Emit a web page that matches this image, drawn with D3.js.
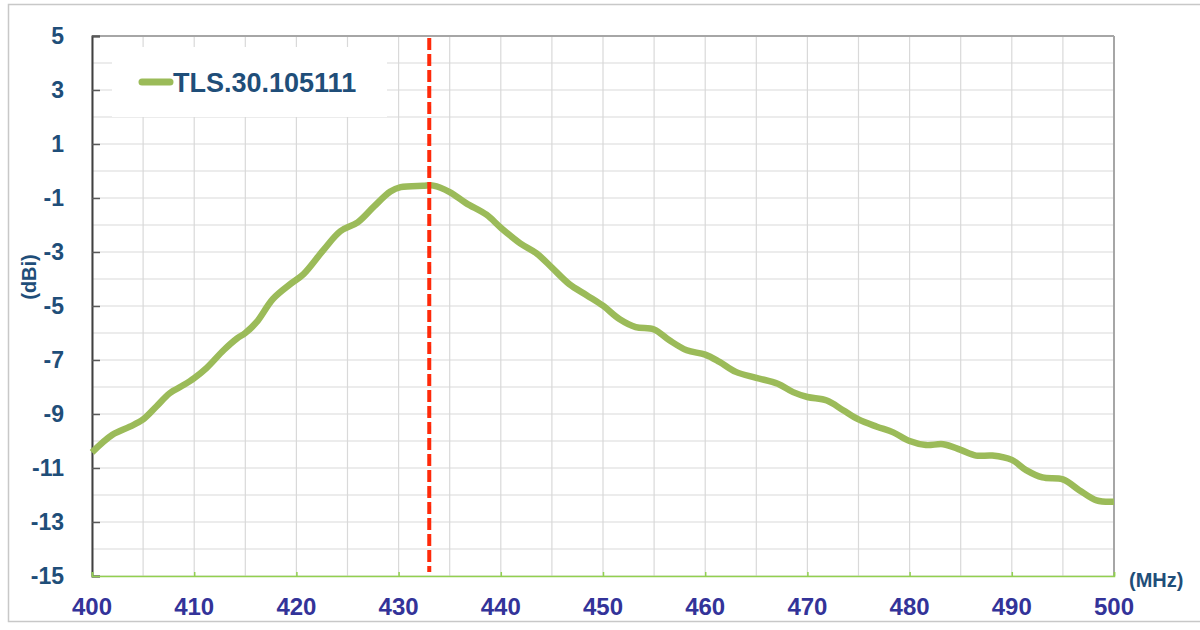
<!DOCTYPE html>
<html>
<head>
<meta charset="utf-8">
<script src="https://cdn.jsdelivr.net/npm/d3@7"></script>
<style>
  body { margin: 0; background: white; }
  text { font-family: "Liberation Sans", Arial, sans-serif; font-weight: bold; }
</style>
</head>
<body>
<div id="main"></div>
<script>
// data
const freqMHz = [400, 402, 403.7, 405, 406.3, 407.6, 409, 410, 411.2, 412.9, 414.2, 415, 416.1, 417.7,
    419.4, 420.7, 422.7, 424.3, 426, 427.6, 429.2, 430.2, 432.4, 433.4, 435, 436.6, 438.6, 440,
    441.9, 443.5, 445, 446.7, 448.4, 450, 451.6, 453.2, 455, 456.5, 458.2, 460, 461.4, 463, 465,
    467.1, 468.6, 470, 471.9, 473.5, 475, 476.8, 478.4, 480, 481.6, 483.3, 485, 486.5, 488.1, 490,
    491.4, 493, 495, 496.6, 498.3, 500];
const gainDbi = [-10.42, -9.77, -9.47, -9.2, -8.72, -8.23, -7.92, -7.67, -7.3, -6.63, -6.2, -6.0, -5.6, -4.74,
    -4.19, -3.82, -2.9, -2.23, -1.9, -1.31, -0.76, -0.6, -0.55, -0.54, -0.78, -1.19, -1.62, -2.1,
    -2.68, -3.05, -3.58, -4.19, -4.6, -4.99, -5.48, -5.78, -5.87, -6.27, -6.64, -6.8, -7.07, -7.44, -7.66,
    -7.88, -8.19, -8.37, -8.5, -8.86, -9.2, -9.47, -9.68, -10.0, -10.15, -10.12, -10.33, -10.54, -10.54, -10.7,
    -11.08, -11.35, -11.42, -11.82, -12.2, -12.25];
const seriesName = "TLS.30.105111";
const markerFreq = 433;
const xTicks = [400, 410, 420, 430, 440, 450, 460, 470, 480, 490, 500];
const yTicks = [5, 3, 1, -1, -3, -5, -7, -9, -11, -13, -15];
const xGrid = d3.range(400, 501, 5);
const yGrid = d3.range(-15, 6, 1);

const ctx = {
    width: 1200,
    height: 630,
    left: 92,
    top: 36,
    right: 1114,
    bottom: 576,
    lineGreen: "#9bbb59",
    labelBlue: "#1f4e79",
    tickIndigo: "#333399",
    gridGrey: "#d9d9d9"
};

function createViz() {
    let svg = d3.select("#main").append("svg")
        .attr("width", ctx.width)
        .attr("height", ctx.height);

    let x = d3.scaleLinear().domain([400, 500]).range([ctx.left, ctx.right]);
    let y = d3.scaleLinear().domain([-15, 5]).range([ctx.bottom, ctx.top]);

    // outer frame
    svg.append("rect")
        .attr("x", 8.5).attr("y", 4.5)
        .attr("width", 1200).attr("height", 617)
        .attr("fill", "white")
        .attr("stroke", "#c8c8c8")
        .attr("stroke-width", 1.5);

    // grid
    let grid = svg.append("g");
    grid.selectAll(".hg").data(yGrid).enter().append("line")
        .attr("x1", ctx.left).attr("x2", ctx.right)
        .attr("y1", d => y(d)).attr("y2", d => y(d))
        .attr("stroke", ctx.gridGrey).attr("stroke-width", 1.2);
    grid.selectAll(".vg").data(xGrid).enter().append("line")
        .attr("x1", d => x(d)).attr("x2", d => x(d))
        .attr("y1", ctx.top).attr("y2", ctx.bottom)
        .attr("stroke", ctx.gridGrey).attr("stroke-width", 1.2);

    // legend box (hides the grid behind it)
    svg.append("rect")
        .attr("x", 112).attr("y", 47)
        .attr("width", 275).attr("height", 70)
        .attr("fill", "white");
    svg.append("line")
        .attr("x1", 142).attr("x2", 170)
        .attr("y1", 82).attr("y2", 82)
        .attr("stroke", ctx.lineGreen)
        .attr("stroke-width", 7)
        .attr("stroke-linecap", "round");
    svg.append("text")
        .attr("x", 173).attr("y", 92)
        .attr("font-size", "27px")
        .attr("fill", ctx.labelBlue)
        .text(seriesName);

    // plot borders
    svg.append("line")
        .attr("x1", ctx.left).attr("x2", ctx.right)
        .attr("y1", ctx.top).attr("y2", ctx.top)
        .attr("stroke", "#a6a6a6").attr("stroke-width", 2);
    svg.append("line")
        .attr("x1", ctx.right).attr("x2", ctx.right)
        .attr("y1", ctx.top).attr("y2", ctx.bottom)
        .attr("stroke", "#a6a6a6").attr("stroke-width", 2);

    // y axis, ticks inward
    let yAxis = svg.append("g")
        .attr("transform", "translate(" + ctx.left + ",0)")
        .call(d3.axisRight(y).tickValues(yTicks).tickSize(8).tickFormat(""));
    yAxis.select(".domain").attr("stroke", "#404040").attr("stroke-width", 2);
    yAxis.selectAll(".tick line").attr("stroke", "#595959").attr("stroke-width", 1.5);
    svg.append("g").selectAll("text").data(yTicks).enter().append("text")
        .attr("x", 64)
        .attr("y", d => y(d))
        .attr("dy", "0.36em")
        .attr("text-anchor", "end")
        .attr("font-size", "23px")
        .attr("fill", ctx.labelBlue)
        .text(d => d);

    // x axis
    let xAxis = svg.append("g")
        .attr("transform", "translate(0," + ctx.bottom + ")")
        .call(d3.axisTop(x).tickValues(xTicks).tickSize(4).tickFormat(""));
    xAxis.select(".domain").attr("stroke", "#92d050").attr("stroke-width", 1.5);
    xAxis.selectAll(".tick line").attr("stroke", "#92d050").attr("stroke-width", 1.5);
    svg.append("g").selectAll("text").data(xTicks).enter().append("text")
        .attr("x", d => x(d))
        .attr("y", 615)
        .attr("text-anchor", "middle")
        .attr("font-size", "24px")
        .attr("fill", ctx.tickIndigo)
        .text(d => d);

    // axis titles
    svg.append("text")
        .attr("transform", "translate(36,277) rotate(-90)")
        .attr("text-anchor", "middle")
        .attr("font-size", "20px")
        .attr("fill", ctx.labelBlue)
        .text("(dBi)");
    svg.append("text")
        .attr("x", 1129).attr("y", 587)
        .attr("font-size", "20px")
        .attr("fill", ctx.labelBlue)
        .text("(MHz)");

    // gain curve
    let points = freqMHz.map((f, i) => [f, gainDbi[i]]);
    let line = d3.line()
        .x(d => x(d[0]))
        .y(d => y(d[1]))
        .curve(d3.curveCatmullRom.alpha(0.5));
    svg.append("path")
        .datum(points)
        .attr("d", line)
        .attr("fill", "none")
        .attr("stroke", ctx.lineGreen)
        .attr("stroke-width", 6.5)
        .attr("stroke-linejoin", "round");

    // marker at the design frequency
    svg.append("line")
        .attr("x1", x(markerFreq)).attr("x2", x(markerFreq))
        .attr("y1", ctx.top + 2).attr("y2", 572)
        .attr("stroke", "#ff2a0a")
        .attr("stroke-width", 4)
        .attr("stroke-dasharray", "12,4");
}

createViz();
</script>
</body>
</html>
